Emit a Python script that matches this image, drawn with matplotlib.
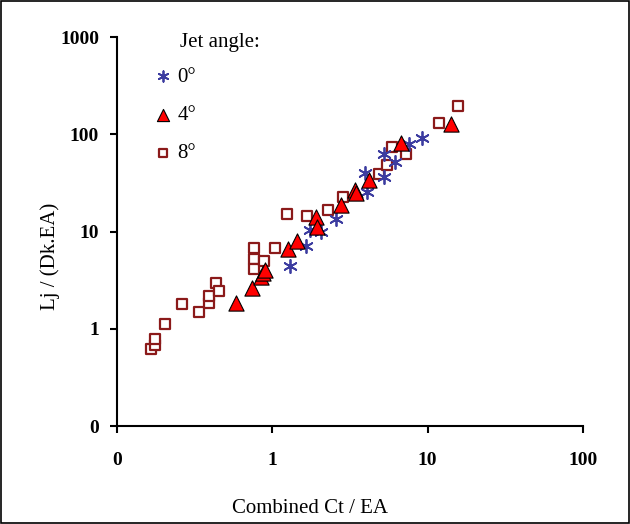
import matplotlib.pyplot as plt
from matplotlib.patches import Rectangle
from matplotlib.ticker import FixedLocator, FixedFormatter, NullLocator

plt.rcParams['font.family'] = ['Liberation Serif', 'DejaVu Serif']

# Jet angle 0 deg
x0 = [1.30, 1.65, 1.75, 2.05, 2.56, 4.09, 3.95, 5.22, 5.22, 6.2, 7.54, 9.23]
y0 = [4.47, 7.18, 10.5, 9.84, 13.5, 25.4, 40.0, 36.2, 62.8, 51.5, 79.5, 92.4]

# Jet angle 4 deg
x4 = [0.585, 0.742, 0.851, 0.87, 0.90, 1.26, 1.44, 1.92, 1.94, 2.77, 3.41, 3.45, 4.22, 6.78, 14.1]
y4 = [1.85, 2.64, 3.39, 3.76, 4.07, 6.64, 8.08, 14.0, 11.1, 18.9, 27.0, 25.0, 33.7, 81.5, 128]

# Jet angle 8 deg
x8 = [0.164, 0.174, 0.174, 0.204, 0.261, 0.339, 0.391, 0.391, 0.435, 0.456,
      0.764, 0.764, 0.764, 0.887, 1.047, 1.25, 1.67, 2.29, 2.84, 4.86,
      5.47, 5.91, 7.28, 11.9, 15.7]
y8 = [0.624, 0.674, 0.777, 1.117, 1.78, 1.48, 1.85, 2.17, 2.97, 2.46,
      6.8, 5.24, 4.13, 5.04, 6.8, 15.3, 14.4, 16.6, 22.5, 39.4,
      48.8, 73.5, 62.8, 132, 197]

xticks = [0.1, 1, 10, 100]
xlabels = ['0', '1', '10', '100']
yticks = [0.1, 1, 10, 100, 1000]
ylabels = ['0', '1', '10', '100', '1000']

fig = plt.figure(figsize=(6.3, 5.24), dpi=100)
ax = fig.add_axes([0.186, 0.187, 0.739, 0.742])

ax.scatter(x8, y8, marker='s', s=42, facecolors='white', edgecolors='#8b1a1a',
           linewidths=1.6, label='8°', zorder=2)
ax.scatter(x0, y0, marker=(6, 2, 0), s=90, color='#3c3ca0', linewidths=1.3,
           label='0°', zorder=3)
ax.scatter(x4, y4, marker='^', s=120, facecolors='#ff0000', edgecolors='black',
           linewidths=0.8, label='4°', zorder=4)

ax.set_xscale('log')
ax.set_yscale('log')
ax.set_xlim(0.1, 100)
ax.set_ylim(0.1, 1000)
ax.xaxis.set_major_locator(FixedLocator(xticks))
ax.xaxis.set_major_formatter(FixedFormatter(xlabels))
ax.yaxis.set_major_locator(FixedLocator(yticks))
ax.yaxis.set_major_formatter(FixedFormatter(ylabels))
ax.xaxis.set_minor_locator(NullLocator())
ax.yaxis.set_minor_locator(NullLocator())

for s in ['top', 'right']:
    ax.spines[s].set_visible(False)
for s in ['left', 'bottom']:
    ax.spines[s].set_linewidth(1.5)
ax.tick_params(axis='both', direction='out', length=5, width=1.5, labelsize=14)
ax.tick_params(axis='x', pad=14)
ax.tick_params(axis='y', pad=8)
for lab in ax.get_xticklabels() + ax.get_yticklabels():
    lab.set_fontweight('bold')

ax.set_xlabel('Combined Ct / EA', fontsize=15)
ax.set_ylabel('Lj / (Dk.EA)', fontsize=15)
ax.xaxis.set_label_coords(0.414, -0.187)
ax.yaxis.set_label_coords(-0.122, 0.437)

handles, labels = ax.get_legend_handles_labels()
order = [1, 2, 0]
ax.legend([handles[i] for i in order], [labels[i] for i in order],
          loc='upper left', bbox_to_anchor=(0.071, 0.923), frameon=False,
          fontsize=15, handletextpad=0.1, labelspacing=0.9, handlelength=1.2,
          borderpad=0, borderaxespad=0, markerscale=0.8)
ax.text(0.135, 0.987, 'Jet angle:', transform=ax.transAxes, fontsize=15,
        va='center', ha='left')

fig.patches.append(Rectangle((0.002, 0.002), 0.996, 0.996, transform=fig.transFigure,
                             fill=False, edgecolor='black', linewidth=1.2))

fig.savefig('out.png', dpi=100)
